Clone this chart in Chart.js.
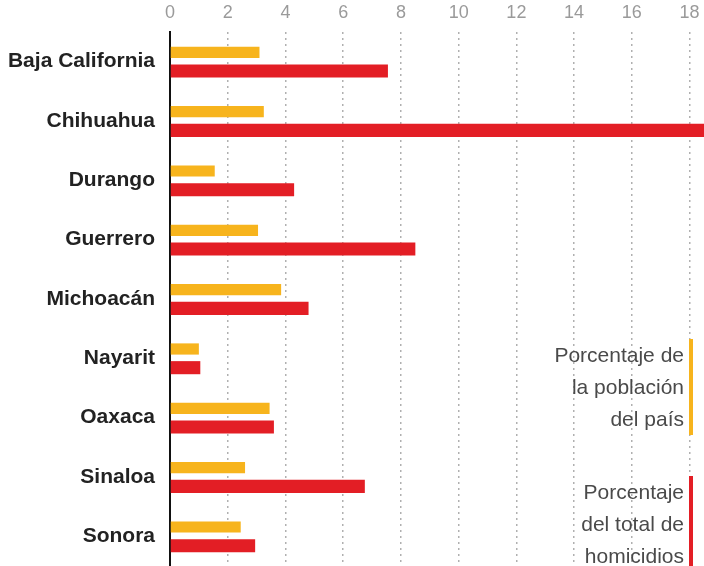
<!DOCTYPE html>
<html>
<head>
<meta charset="utf-8">
<script src="https://cdn.jsdelivr.net/npm/chart.js@4.4.0/dist/chart.umd.min.js"></script>
<style>
  body { margin: 0; background: #fff; }
  #wrap { position: relative; width: 704px; height: 566px; overflow: hidden; }
  .key {
    position: absolute; right: 11px; text-align: right;
    font-family: "Liberation Sans", Arial, sans-serif;
    font-size: 21px; line-height: 32px; color: #4a4a4a;
    padding-right: 5px; border-right: 4px solid;
  }
</style>
</head>
<body>
<div id="wrap">
  <canvas id="c" width="704" height="566"></canvas>
  <div class="key" style="top:339px; border-color:#f7b41d;">Porcentaje de<br>la población<br>del país</div>
  <div class="key" style="top:476px; border-color:#e31e25;">Porcentaje<br>del total de<br>homicidios</div>
</div>
<script>
var estados = ['Baja California', 'Chihuahua', 'Durango', 'Guerrero', 'Michoacán', 'Nayarit', 'Oaxaca', 'Sinaloa', 'Sonora'];
var poblacion = [3.1, 3.25, 1.55, 3.05, 3.85, 1.0, 3.45, 2.6, 2.45];
var homicidios = [7.55, 24, 4.3, 8.5, 4.8, 1.05, 3.6, 6.75, 2.95];
var ejeTicks = [0, 2, 4, 6, 8, 10, 12, 14, 16, 18];

var sans = '"Liberation Sans", Arial, sans-serif';

new Chart(document.getElementById('c'), {
  type: 'bar',
  data: {
    labels: estados,
    datasets: [
      { label: 'Porcentaje de la población del país', data: poblacion, backgroundColor: '#f7b41d', categoryPercentage: 0.63, barPercentage: 0.6 },
      { label: 'Porcentaje del total de homicidios', data: homicidios, backgroundColor: '#e31e25', categoryPercentage: 0.63, barPercentage: 0.7 }
    ]
  },
  options: {
    indexAxis: 'y',
    responsive: false,
    animation: false,
    layout: { padding: 0 },
    plugins: { legend: { display: false }, tooltip: { enabled: false } },
    scales: {
      x: {
        position: 'top',
        min: 0,
        max: 18.5,
        afterBuildTicks: function (scale) {
          scale.ticks = ejeTicks.map(function (v) { return { value: v }; });
        },
        afterFit: function (scale) {
          scale.height = 32;
          scale.paddingLeft = 0;
          scale.paddingRight = 0;
        },
        border: { display: false, dash: [2, 4] },
        grid: { color: '#b0b0b0', lineWidth: 1.5, drawTicks: false },
        ticks: { color: '#9a9a9a', padding: 8, font: { family: sans, size: 18 } }
      },
      y: {
        afterFit: function (scale) {
          scale.width = 170;
          scale.paddingTop = 0;
          scale.paddingBottom = 0;
        },
        border: { display: true, color: '#111', width: 2 },
        grid: { display: false },
        ticks: { color: '#222', padding: 7, font: { family: sans, size: 21, weight: 'bold' } }
      }
    }
  }
});
</script>
</body>
</html>
